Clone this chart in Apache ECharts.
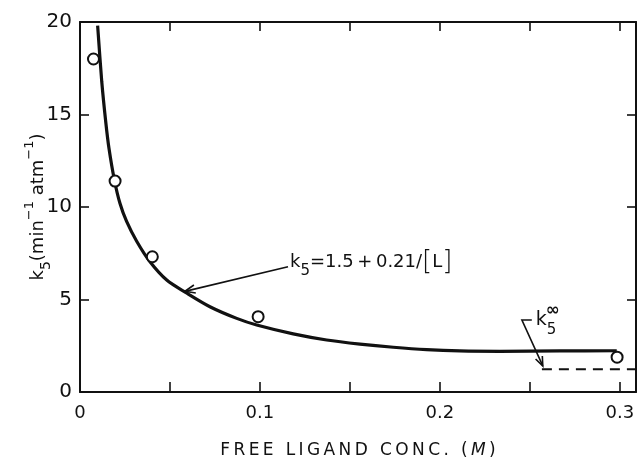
<!DOCTYPE html>
<html>
<head>
<meta charset="utf-8">
<script src="https://cdn.jsdelivr.net/npm/echarts@6/dist/echarts.min.js"></script>
<style>
  html, body { margin: 0; padding: 0; background: #fff; }
  #chart { width: 638px; height: 460px; }
</style>
</head>
<body>
<div id="chart"></div>
<script>
// Fitted curve k5 vs free ligand concentration
const curveX = [0.0098, 0.0121, 0.0143, 0.0161, 0.0191, 0.0222, 0.0259, 0.0315, 0.0389, 0.0482,
                0.0589, 0.0722, 0.0871, 0.0982, 0.1185, 0.1371, 0.1556, 0.1741, 0.1926, 0.2111,
                0.2333, 0.2667, 0.2983];
const curveY = [19.80, 16.77, 14.61, 13.17, 11.46, 10.20, 9.22, 8.15, 7.04, 6.05,
                5.37, 4.61, 3.98, 3.62, 3.14, 2.81, 2.59, 2.42, 2.29, 2.22,
                2.20, 2.22, 2.23];

// Measured rate constants
const obsX = [0.0075, 0.0195, 0.0402, 0.099, 0.2985];
const obsY = [18.0, 11.4, 7.31, 4.07, 1.88];

// Limiting value k5 at infinite ligand concentration
const limitX = [0.2567, 0.309];
const limitY = [1.23, 1.23];

// Axis ticks and labels
const xLabelValues = [0, 0.1, 0.2, 0.3];
const xLabelTexts = ['0', '0.1', '0.2', '0.3'];
const yLabelValues = [0, 5, 10, 15, 20];

const FONT = 'DejaVu Sans';
const INK = '#111';
const THIN = '\u2009';

const chart = echarts.init(document.getElementById('chart'), null, { renderer: 'canvas' });

function xLabel(v) {
  for (let i = 0; i < xLabelValues.length; i++) {
    if (Math.abs(v - xLabelValues[i]) < 1e-6) return xLabelTexts[i];
  }
  return '';
}
function yLabel(v) {
  return yLabelValues.some(t => Math.abs(t - v) < 1e-6) ? String(v) : '';
}
// widen lettering a little, like hand-lettered captions
function spaced(s) {
  return s.split('').join(THIN);
}

// Open "V" arrowhead at point tip, coming from point from
function arrowHead(from, tip, len, spread) {
  const ang = Math.atan2(from[1] - tip[1], from[0] - tip[0]);
  const a1 = ang + spread, a2 = ang - spread;
  return {
    type: 'polyline',
    shape: { points: [
      [tip[0] + len * Math.cos(a1), tip[1] + len * Math.sin(a1)],
      tip,
      [tip[0] + len * Math.cos(a2), tip[1] + len * Math.sin(a2)]
    ] },
    style: { stroke: INK, lineWidth: 1.6, fill: null }
  };
}

// Annotation anchors, in data units
const fitArrowFrom = [0.1156, 6.77];
const fitArrowTip = [0.0583, 5.44];
const fitTextAt = [0.1167, 7.03];
const limLeader = [[0.2511, 3.89], [0.2456, 3.89], [0.2572, 1.41]];
const limTextAt = [0.2533, 3.89];

function renderNotes(params, api) {
  const p = v => api.coord(v);
  const a0 = p(fitArrowFrom), a1 = p(fitArrowTip);
  const l = limLeader.map(p);
  const ft = p(fitTextAt);
  const lt = p(limTextAt);
  return {
    type: 'group',
    children: [
      { type: 'line', shape: { x1: a0[0], y1: a0[1], x2: a1[0], y2: a1[1] },
        style: { stroke: INK, lineWidth: 1.6 } },
      arrowHead(a0, a1, 11, 0.38),
      { type: 'polyline', shape: { points: l },
        style: { stroke: INK, lineWidth: 1.6, fill: null } },
      arrowHead(l[1], l[2], 10, 0.38),
      { type: 'text', x: ft[0], y: ft[1],
        style: {
          text: '{m|k}{s|5}{m|=1.5' + THIN + '+' + THIN + '0.21/}{b|[}{m|L}{b|]}',
          align: 'left', verticalAlign: 'middle',
          fill: INK, fontFamily: FONT,
          rich: {
            m: { fontSize: 18, lineHeight: 34, fontFamily: FONT, fill: INK },
            s: { fontSize: 15, lineHeight: 13, verticalAlign: 'bottom', fontFamily: FONT, fill: INK },
            b: { fontSize: 26, lineHeight: 34, fontFamily: FONT, fill: INK, fontWeight: 200 }
          }
        } },
      { type: 'text', x: lt[0], y: lt[1],
        style: { text: 'k', fontSize: 19, fontFamily: FONT, fill: INK, align: 'left', verticalAlign: 'middle' } },
      { type: 'text', x: lt[0] + 10, y: lt[1] - 9,
        style: { text: '\u221E', fontSize: 17, fontFamily: FONT, fill: INK, align: 'left', verticalAlign: 'middle', fontWeight: 'bold' } },
      { type: 'text', x: lt[0] + 11, y: lt[1] + 10,
        style: { text: '5', fontSize: 15, fontFamily: FONT, fill: INK, align: 'left', verticalAlign: 'middle' } }
    ]
  };
}

const axisLine = { show: true, onZero: false, lineStyle: { color: INK, width: 2 } };
const tickStyle = { color: INK, width: 1.6 };

const option = {
  backgroundColor: '#fff',
  animation: false,
  grid: { left: 80, top: 22, width: 556, height: 370, containLabel: false, outerBoundsMode: 'none' },
  xAxis: [
    {
      type: 'value', position: 'bottom', min: 0, max: 0.309, interval: 0.05,
      axisLine, splitLine: { show: false },
      axisTick: { inside: true, length: 10, lineStyle: tickStyle },
      axisLabel: { formatter: xLabel, fontSize: 18, fontFamily: FONT, color: INK, margin: 12 },
      name: '{n|' + spaced('FREE LIGAND CONC. (') + THIN + '}{i|M}{n|' + THIN + ')}',
      nameLocation: 'middle', nameGap: 50, nameMoveOverlap: false,
      nameTextStyle: {
        rich: {
          n: { fontSize: 17, fontFamily: FONT, color: INK },
          i: { fontSize: 17, fontFamily: FONT, color: INK, fontStyle: 'italic' }
        }
      }
    },
    {
      type: 'value', position: 'top', min: 0, max: 0.309, interval: 0.05,
      axisLine, splitLine: { show: false },
      axisTick: { inside: true, length: 9, lineStyle: tickStyle },
      axisLabel: { show: false }
    }
  ],
  yAxis: [
    {
      type: 'value', position: 'left', min: 0, max: 20, interval: 5,
      axisLine, splitLine: { show: false },
      axisTick: { inside: true, length: 9, lineStyle: tickStyle },
      axisLabel: { formatter: yLabel, fontSize: 20, fontFamily: FONT, color: INK, margin: 8 },
      name: '{m|k}{s|5}{m|(min}{p|\u22121}{m| atm}{p|\u22121}{m|)}',
      nameLocation: 'middle', nameGap: 27, nameMoveOverlap: false,
      nameTextStyle: {
        rich: {
          m: { fontSize: 18, lineHeight: 30, fontFamily: FONT, color: INK },
          s: { fontSize: 14, lineHeight: 12, verticalAlign: 'bottom', fontFamily: FONT, color: INK },
          p: { fontSize: 13, lineHeight: 14, verticalAlign: 'top', fontFamily: FONT, color: INK }
        }
      }
    },
    {
      type: 'value', position: 'right', min: 0, max: 20, interval: 5,
      axisLine, splitLine: { show: false },
      axisTick: { inside: true, length: 9, lineStyle: tickStyle },
      axisLabel: { show: false }
    }
  ],
  series: [
    {
      name: 'fit', type: 'line', xAxisIndex: 0, yAxisIndex: 0,
      data: curveX.map((x, i) => [x, curveY[i]]),
      showSymbol: false, smooth: 0.3,
      lineStyle: { color: INK, width: 3.2 }, z: 2
    },
    {
      name: 'limit', type: 'line', xAxisIndex: 0, yAxisIndex: 0,
      data: limitX.map((x, i) => [x, limitY[i]]),
      showSymbol: false,
      lineStyle: { color: INK, width: 2, type: [10, 7] }, z: 2
    },
    {
      name: 'observed', type: 'scatter', xAxisIndex: 0, yAxisIndex: 0,
      data: obsX.map((x, i) => [x, obsY[i]]),
      symbol: 'circle', symbolSize: 11,
      itemStyle: { color: '#fff', borderColor: INK, borderWidth: 2, opacity: 1 }, z: 3
    },
    {
      name: 'notes', type: 'custom', xAxisIndex: 0, yAxisIndex: 0,
      data: [[0, 0]], renderItem: renderNotes, silent: true, z: 4, clip: false
    }
  ]
};

chart.setOption(option);
</script>
</body>
</html>
